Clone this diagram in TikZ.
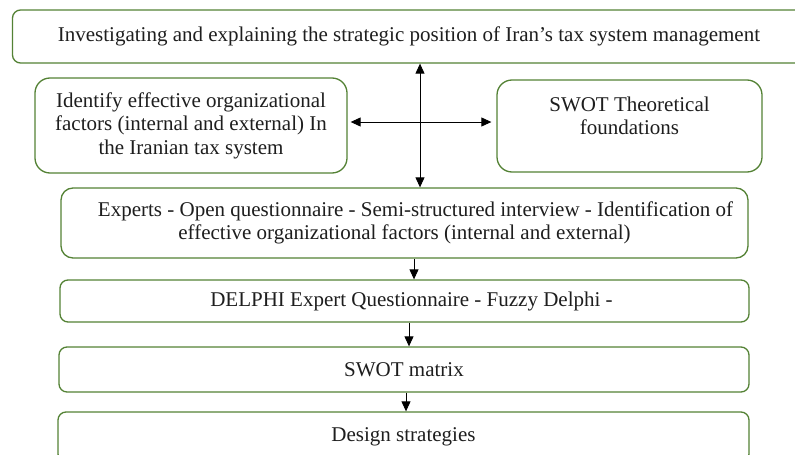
\documentclass[tikz,border=0pt]{standalone}
\usepackage{fontspec}
\setmainfont{Liberation Serif}
\usetikzlibrary{arrows.meta}

\definecolor{boxgreen}{RGB}{84,130,53}
\definecolor{txtgray}{RGB}{30,30,30}

\tikzset{
  stagebox/.style={draw=boxgreen, line width=1.3pt, fill=white, align=center,
    inner sep=2pt, text=txtgray, font=\fontsize{21}{23.5}\selectfont},
  flowarrow/.style={-{Triangle[length=10pt,width=9pt]}, line width=0.9pt},
  crossarrow/.style={{Triangle[length=10pt,width=9pt]}-{Triangle[length=10pt,width=9pt]}, line width=0.9pt}
}

\begin{document}
\begin{tikzpicture}[x=1pt,y=-1pt]

\useasboundingbox (0,0) rectangle (795,455);

% -------- Title box (runs past the right edge) --------
\node[stagebox, rounded corners=8pt,
minimum width=793pt, minimum height=53pt] (title) at (409,36.5)
{Investigating and explaining the strategic position of Iran's tax system management};

% -------- Side boxes --------
\node[stagebox, rounded corners=15pt,
minimum width=312pt, minimum height=95pt] (factors) at (191,125.5)
{Identify effective organizational\\factors (internal and external) In\\the Iranian tax system};

\node[stagebox, rounded corners=15pt,
minimum width=265pt, minimum height=92pt] (theory) at (629.5,126)
{SWOT Theoretical\\foundations\\[-10pt]\strut};

% -------- Main flow --------
\node[stagebox, rounded corners=12pt,
minimum width=687pt, minimum height=70pt] (experts) at (404.5,223)
{\hspace*{22pt}Experts - Open questionnaire - Semi-structured interview - Identification of\\
effective organizational factors (internal and external)};

\node[stagebox, rounded corners=8pt,
minimum width=689pt, minimum height=42pt] (delphi) at (404.5,301)
{\hspace*{14pt}DELPHI Expert Questionnaire - Fuzzy Delphi -};

\node[stagebox, rounded corners=8pt,
minimum width=690pt, minimum height=45pt] (matrix) at (404,369.5)
{SWOT matrix};

\node[stagebox, rounded corners=8pt,
minimum width=691pt, minimum height=50pt] (design) at (403.5,437)
{Design strategies};

% -------- Connectors --------
\draw[crossarrow] (title.south -| 420,0) -- (experts.north -| 420,0);
\draw[crossarrow] ([xshift=3pt]factors.east |- 0,122) -- ([xshift=-5pt]theory.west |- 0,122);

\draw[flowarrow] (experts.south -| 414,0) -- (delphi.north -| 414,0);
\draw[flowarrow] (delphi.south -| 409,0) -- (matrix.north -| 409,0);
\draw[flowarrow] (matrix.south -| 406,0) -- (design.north -| 406,0);

\end{tikzpicture}
\end{document}
